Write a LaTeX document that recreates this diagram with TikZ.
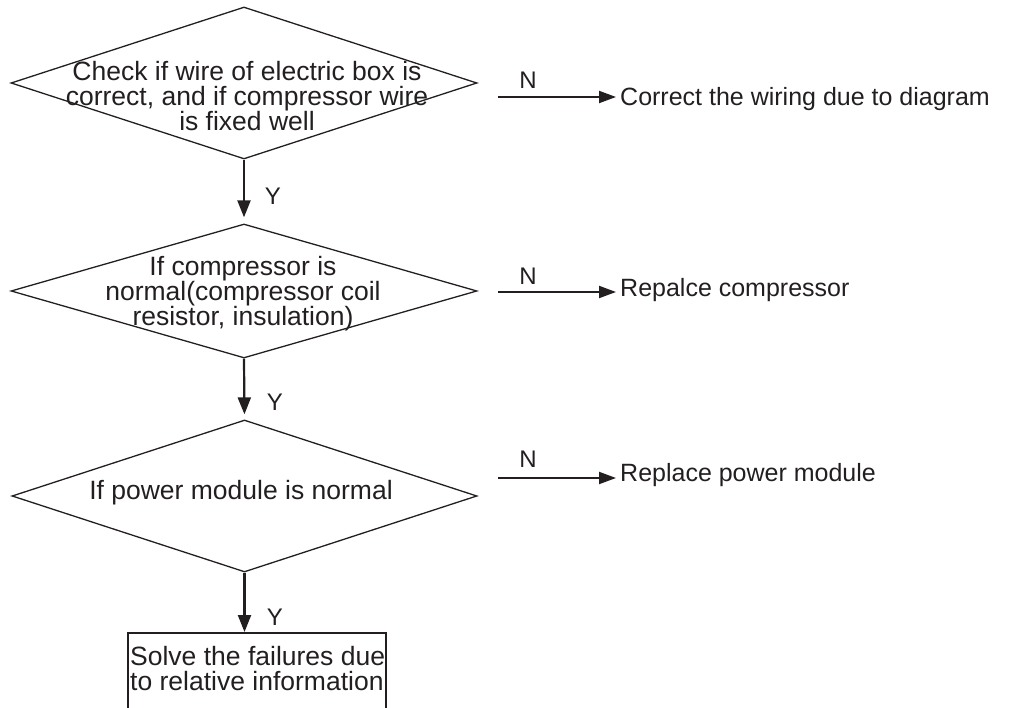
\documentclass[tikz,border=0pt]{standalone}
\usepackage{fontspec}
\setmainfont{Liberation Sans}
\usetikzlibrary{shapes.geometric,arrows.meta}
\definecolor{ink}{RGB}{35,31,32}
\begin{document}
\begin{tikzpicture}[x=1pt,y=-1pt,
  dia/.style={draw=ink, line width=1.3pt, shape=diamond, inner sep=0pt},
  lbl/.style={text=ink, font=\fontsize{26.5}{25}\selectfont, align=center, inner sep=0pt},
  res/.style={text=ink, font=\fontsize{25}{28}\selectfont, inner sep=0pt, anchor=base west},
  yn/.style={text=ink, font=\fontsize{24}{28}\selectfont, inner sep=0pt, anchor=base},
  flow/.style={draw=ink, line width=2.2pt, -{Triangle[length=17pt,width=13pt]}},
  hflow/.style={draw=ink, line width=2pt, -{Triangle[length=17pt,width=12pt]}},
  boxst/.style={draw=ink, line width=1.5pt, inner sep=0pt}
]
\useasboundingbox (0,0) rectangle (1018,708);
\clip (0,0) rectangle (1018,708);

% decisions
\node[dia, minimum width=466pt, minimum height=152pt] (d1) at (244,83) {};
\node[dia, minimum width=466pt, minimum height=134pt] (d2) at (244,291) {};
\node[dia, minimum width=465pt, minimum height=152pt] (d3) at (244.5,496) {};

\node[lbl, anchor=base] (t1) at (247,131) {Check if wire of electric box is\\correct, and if compressor wire\\is fixed well};
\node[lbl, anchor=base] (t2) at (243,326) {If compressor is\\normal(compressor coil\\resistor, insulation)};
\node[lbl, anchor=base] (t3) at (241,500) {If power module is normal};

% final box
\node[boxst, minimum width=258pt, minimum height=100pt, anchor=north] (b) at (257,632) {};
\node[lbl, align=left, anchor=base west] (bt) at (130,690) {Solve the failures due\\to relative information};

% Y flows
\draw[flow, shorten >=6pt] (d1.south) -- (d2.north);
\draw[flow, shorten >=5pt] (d2.south) -- (d3.north);
\draw[flow] (d3.south) -- (d3.south |- b.north);
\node[yn] (y1) at (273,205) {Y};
\node[yn] (y2) at (275,411) {Y};
\node[yn] (y3) at (275,625) {Y};

% N flows
\coordinate (s1) at (498,97);
\coordinate (s2) at (498,292);
\coordinate (s3) at (498,478);
\node[res] (r1) at (620,106) {Correct the wiring due to diagram};
\node[res] (r2) at (620,297) {Repalce compressor};
\node[res] (r3) at (620,482) {Replace power module};
\draw[hflow, shorten >=4pt] (s1) -- (r1.west |- s1);
\draw[hflow, shorten >=4pt] (s2) -- (r2.west |- s2);
\draw[hflow, shorten >=4pt] (s3) -- (r3.west |- s3);
\node[yn] (n1) at (528,89) {N};
\node[yn] (n2) at (528,285) {N};
\node[yn] (n3) at (528,468) {N};
\end{tikzpicture}
\end{document}
